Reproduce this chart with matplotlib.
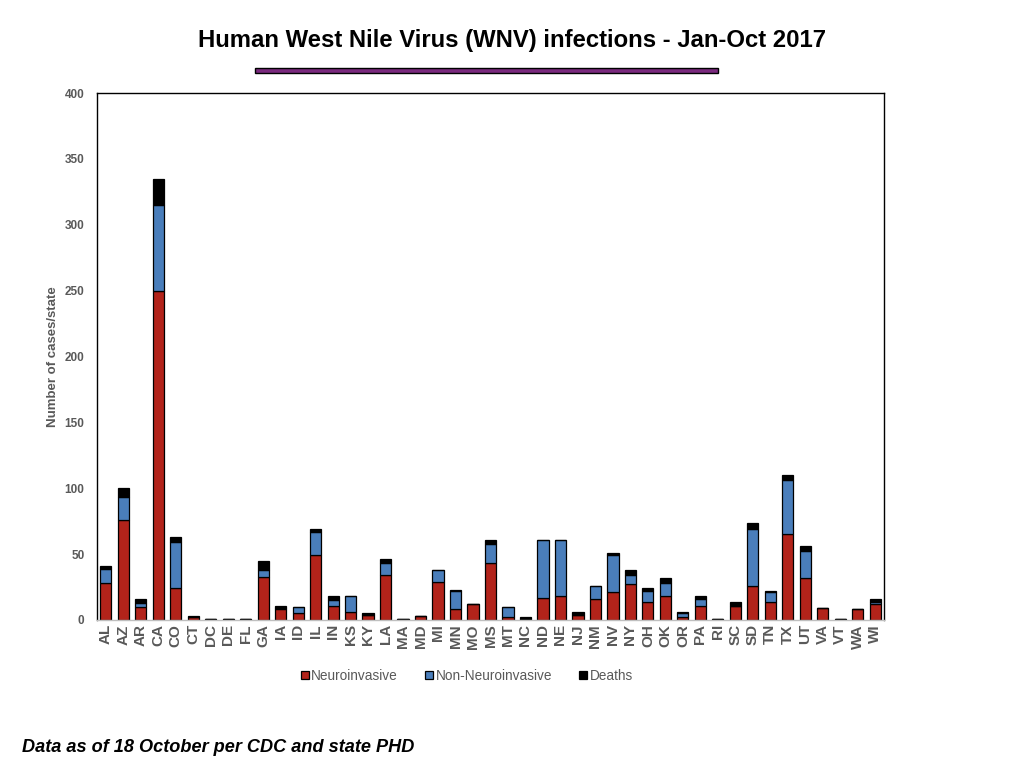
import matplotlib.pyplot as plt
import matplotlib.patches as mpatches
import numpy as np

plt.rcParams['font.family'] = ['Liberation Sans', 'DejaVu Sans']

states = ["AL", "AZ", "AR", "CA", "CO", "CT", "DC", "DE", "FL", "GA", "IA", "ID",
          "IL", "IN", "KS", "KY", "LA", "MA", "MD", "MI", "MN", "MO", "MS", "MT",
          "NC", "ND", "NE", "NJ", "NM", "NV", "NY", "OH", "OK", "OR", "PA", "RI",
          "SC", "SD", "TN", "TX", "UT", "VA", "VT", "WA", "WI"]
neuro = [28, 76, 10, 250, 24, 2, 1, 1, 1, 33, 8, 5,
         49, 11, 6, 4, 34, 1, 3, 29, 8, 12, 43, 2,
         0, 17, 18, 4, 16, 21, 27, 14, 18, 2, 11, 1,
         11, 26, 14, 65, 32, 9, 1, 8, 12]
non_neuro = [11, 17, 3, 65, 35, 0, 0, 0, 0, 5, 1, 5,
             18, 4, 12, 0, 9, 0, 0, 9, 14, 0, 15, 8,
             0, 44, 43, 0, 10, 28, 7, 8, 10, 3, 5, 0,
             0, 43, 7, 41, 20, 0, 0, 0, 2]
deaths = [2, 7, 3, 20, 4, 1, 0, 0, 0, 7, 2, 0,
          2, 3, 0, 1, 3, 0, 0, 0, 1, 0, 3, 0,
          2, 0, 0, 2, 0, 2, 4, 2, 4, 1, 2, 0,
          3, 5, 1, 4, 4, 0, 0, 0, 2]

RED = "#B2231A"
BLUE = "#4A7EBB"
GREY = "#595959"

fig = plt.figure(figsize=(10.24, 7.68), dpi=100)
ax = fig.add_axes([97 / 1024, 1 - 620 / 768, (884 - 97) / 1024, (620 - 93) / 768])

x = np.arange(len(states))
neuro = np.array(neuro)
non_neuro = np.array(non_neuro)
deaths = np.array(deaths)
w = 0.64
ax.bar(x, neuro, w, color=RED, edgecolor="black", linewidth=0.9, label="Neuroinvasive")
ax.bar(x, non_neuro, w, bottom=neuro, color=BLUE, edgecolor="black", linewidth=0.9,
       label="Non-Neuroinvasive")
ax.bar(x, deaths, w, bottom=neuro + non_neuro, color="black", edgecolor="black",
       linewidth=0.9, label="Deaths")

ax.set_xlim(-0.5, len(states) - 0.5)
ax.set_ylim(0, 400)
ax.set_yticks(range(0, 401, 50))
ax.set_xticks(x)
ax.set_xticklabels(states, rotation=90, fontsize=11, fontweight="bold", color=GREY)
ax.tick_params(axis="y", length=0, pad=9, labelsize=8.5, labelcolor=GREY)
ax.tick_params(axis="x", length=0, pad=3)
for lab in ax.get_yticklabels():
    lab.set_fontweight("bold")
ax.set_ylabel("Number of cases/state", fontsize=9.5, fontweight="bold", color=GREY, labelpad=4)

for s in ["left", "top", "right"]:
    ax.spines[s].set_color("black")
    ax.spines[s].set_linewidth(1.0)
ax.spines["bottom"].set_color("#BFBFBF")
ax.spines["bottom"].set_linewidth(1.0)

leg = ax.legend(loc="upper center", bbox_to_anchor=(0.47, -0.07), ncol=3, frameon=False,
                fontsize=9.8, handlelength=0.55, handleheight=0.55, handletextpad=0.2,
                columnspacing=2.0)
for t in leg.get_texts():
    t.set_color(GREY)

fig.text(512 / 1024, 1 - 41 / 768, "Human West Nile Virus (WNV) infections - Jan-Oct 2017",
         ha="center", va="center", fontsize=17.2, fontweight="bold")
fig.patches.append(mpatches.Rectangle((255 / 1024, 1 - 73 / 768), (718 - 255) / 1024, 5 / 768,
                                      transform=fig.transFigure, facecolor="#7A2A7E",
                                      edgecolor="black", linewidth=1.0))
fig.text(22 / 1024, 1 - 748 / 768, "Data as of 18 October per CDC and state PHD",
         ha="left", va="center", fontsize=13.1, fontweight="bold", style="italic")

fig.savefig("out.png", dpi=100)
